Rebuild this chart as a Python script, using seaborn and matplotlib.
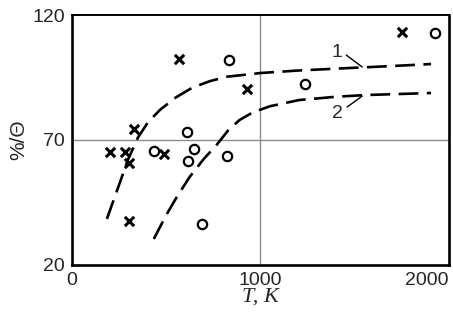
import matplotlib
matplotlib.use('Agg')
import matplotlib.pyplot as plt
import seaborn as sns
import pandas as pd

# Data
cross_T = [201, 280, 302, 328, 302, 487, 566, 926, 1751]
cross_val = [65.2, 65.2, 60.8, 74.4, 37.6, 64.4, 102.4, 90.4, 113.2]

circle_T = [434, 608, 614, 646, 688, 825, 831, 1238, 1926]
circle_val = [65.6, 73.2, 61.6, 66.4, 36.4, 63.6, 102.0, 92.4, 112.8]

curve1_T = [185, 240, 296, 350, 402, 466, 550, 640, 730, 820, 1000, 1200, 1470, 1700, 1905]
curve1_val = [38.4, 50.0, 62.0, 71.0, 77.0, 82.0, 87.0, 91.0, 93.5, 95.3, 96.8, 97.8, 98.8, 99.6, 100.4]

curve2_T = [434, 500, 556, 624, 700, 767, 830, 889, 958, 1050, 1206, 1400, 1561, 1905]
curve2_val = [30.4, 40.0, 47.2, 55.2, 62.5, 68.0, 74.0, 78.0, 81.0, 83.5, 86.0, 87.3, 88.0, 88.8]

x_ticks = [0, 1000, 2000]
y_ticks = [20, 70, 120]

sns.set_style('white')
plt.rcParams['font.family'] = ['Liberation Sans', 'DejaVu Sans']

fig = plt.figure(figsize=(4.53, 3.2), dpi=100)
ax = fig.add_axes([0.159, 0.172, 0.832, 0.781])

# reference lines at 1000 K and 70
ax.axvline(1000, color='#8c8c8c', lw=1.0, zorder=0)
ax.axhline(70, color='#8c8c8c', lw=1.0, zorder=0)

c1 = pd.DataFrame({'T': curve1_T, 'v': curve1_val})
c2 = pd.DataFrame({'T': curve2_T, 'v': curve2_val})
for df in (c1, c2):
    sns.lineplot(data=df, x='T', y='v', ax=ax, color='black', lw=1.9,
                 sort=False, estimator=None)
for line in ax.lines[2:]:
    line.set_dashes([7.5, 3.2])

crosses = pd.DataFrame({'T': cross_T, 'v': cross_val})
circles = pd.DataFrame({'T': circle_T, 'v': circle_val})
sns.scatterplot(data=crosses, x='T', y='v', ax=ax, marker='x', s=45,
                color='black', linewidth=2.2, zorder=3)
sns.scatterplot(data=circles, x='T', y='v', ax=ax, marker='o', s=45,
                facecolor='white', edgecolor='black', linewidth=1.6, zorder=3)

# curve labels with leader lines
ax.text(1407, 105.2, '1', fontsize=14, ha='center', va='center')
ax.plot([1455, 1540], [104, 99.2], color='black', lw=1.0)
ax.text(1407, 80.8, '2', fontsize=14, ha='center', va='center')
ax.plot([1460, 1540], [83.2, 87.6], color='black', lw=1.0)

ax.set_xlim(0, 2000)
ax.set_ylim(20, 120)
ax.set_xticks(x_ticks)
ax.set_yticks(y_ticks)
ax.set_xticklabels([str(t) for t in x_ticks], fontsize=14)
ax.set_yticklabels([str(t) for t in y_ticks], fontsize=14)
ax.get_xticklabels()[-1].set_ha('right')
ax.tick_params(length=0, pad=5)

for side in ax.spines:
    ax.spines[side].set_color('black')
    ax.spines[side].set_linewidth(1.9)
ax.spines['top'].set_linewidth(1.4)

ax.set_xlabel('T, K', fontsize=16, family=['Liberation Serif'], style='italic', labelpad=-1)
ax.set_ylabel('%/Θ', fontsize=15, labelpad=3)

fig.savefig('out.png', dpi=100)
